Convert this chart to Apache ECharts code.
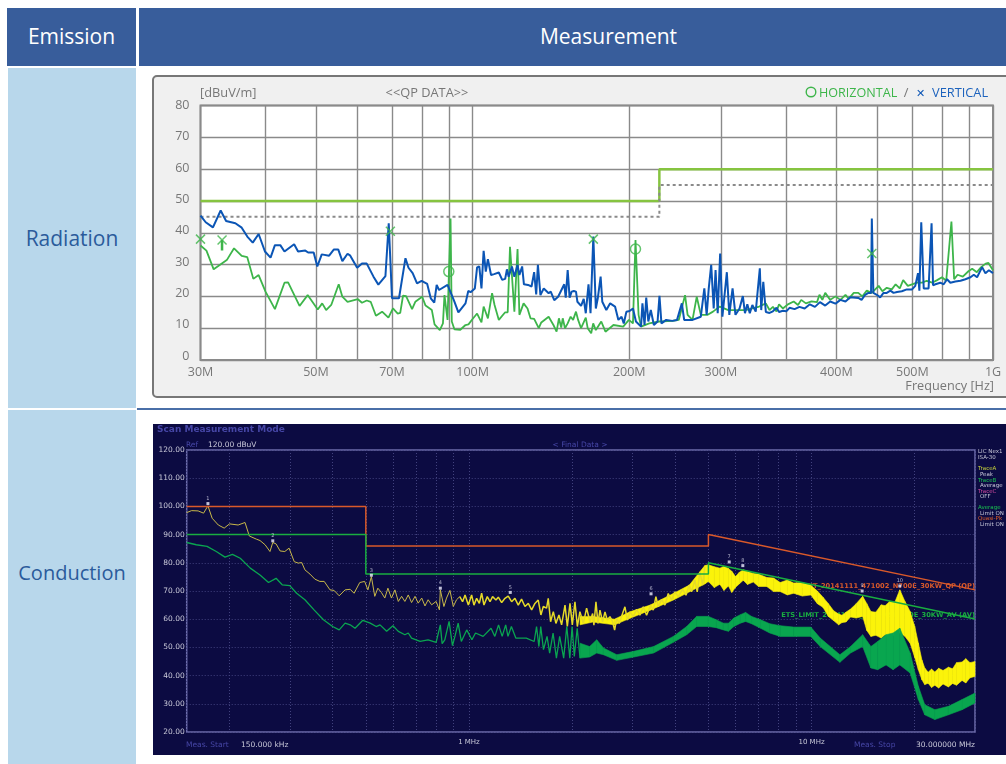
<!DOCTYPE html>
<html>
<head>
<meta charset="utf-8">
<title>Emission</title>
<script src="https://cdn.jsdelivr.net/npm/echarts@6/dist/echarts.min.js"></script>
<style>
  html, body { margin: 0; padding: 0; background: #fff; }
  body { width: 1006px; height: 764px; position: relative; overflow: hidden; font-family: "Open Sans", sans-serif; }
  .cell { position: absolute; box-sizing: border-box; display: flex; align-items: center; justify-content: center; font-size: 21px; }
  .head { background: #385d9b; color: #fff; }
  .side { background: #b8d7eb; color: #2b5b9b; }
  #rule { position: absolute; left: 137px; top: 408px; width: 869px; height: 2px; background: #4a6fa8; }
  #panel { position: absolute; left: 152px; top: 75px; width: 870px; height: 323px; box-sizing: border-box;
           background: #f0f0f0; border: 2px solid #777; border-radius: 5px; }
  #radiation { position: absolute; left: 152px; top: 75px; width: 854px; height: 323px; }
  #conduction { position: absolute; left: 153px; top: 424px; width: 853px; height: 331px; filter: blur(0.4px); }
</style>
</head>
<body>
<div class="cell head" style="left:7px;top:8px;width:129px;height:58px;padding-bottom:2px">Emission</div>
<div class="cell head" style="left:139px;top:8px;width:867px;height:58px;padding:0 0 2px 72px">Measurement</div>
<div class="cell side" style="left:8px;top:68px;width:128px;height:340px">Radiation</div>
<div class="cell side" style="left:8px;top:410px;width:128px;height:354px;padding-bottom:30px;font-size:20px">Conduction</div>
<div id="rule"></div>
<div id="panel"></div>
<div id="radiation"></div>
<div id="conduction"></div>
<script>
// --- Radiation, [MHz, dBuV/m]
const radGridFreqs = [30, 40, 50, 60, 70, 80, 90, 100, 200, 300, 400, 500, 600, 700, 800, 900, 1000]
const radTickFreqs = [30, 50, 70, 100, 200, 300, 500, 700, 1000]
const radTickLabels = ['30M', '50M', '70M', '100M', '200M', '300M', '400M', '500M', '1G']
const radYTicks = [0, 10, 20, 30, 40, 50, 60, 70, 80]

const radLimit = [[30, 50], [228.5, 50], [228.5, 60], [1000, 60]]
const radMargin = [[30, 45], [228.5, 45], [228.5, 55], [1000, 55]]

const radVertical = [
  [30, 45.4], [30.7, 43.3], [31.7, 41.7], [32.8, 47], [33.6, 43.7], [35, 43], [36, 41.6], [36.9, 38.8],
  [37.8, 36.9], [38.8, 39.6], [39.9, 34.1], [40.9, 32.2], [41.7, 36.1], [42.7, 36.1], [43.5, 34.1], [45.4, 36.4],
  [46.2, 34.1], [47.7, 34.4], [48.3, 33.8], [49.5, 33.8], [50.3, 29.4], [51.3, 33.2], [53, 32.8], [54.1, 34.7],
  [55.2, 34.7], [56.2, 31.1], [57.5, 33.4], [58.2, 32.8], [60, 29], [61.3, 30.3], [62.6, 30.3], [64.5, 26.2],
  [65.9, 23.7], [68, 26.4], [69, 43], [70, 19.4], [72.2, 19.4], [74.3, 32], [75.3, 29], [76.7, 27.3],
  [78.2, 24.1], [79.8, 24.9], [81.8, 23.9], [83.1, 19.4], [84.4, 18], [85.3, 23.6], [86.2, 22], [89.5, 23.6],
  [91.2, 20.4], [92.3, 18.3], [93.9, 15], [96.9, 17.8], [98.1, 21.7], [99.1, 21.3], [101, 22.5], [102, 29.1],
  [103, 29.4], [104, 22.5], [105, 34.3], [106, 27.8], [107, 31.7], [108.5, 26.7], [110, 27], [112.3, 27.5],
  [114, 25.2], [115.5, 25.5], [116.4, 28.5], [117.3, 26.2], [119, 29.4], [120.3, 26.2], [122, 29.9], [123, 26.7],
  [124.5, 29.4], [125.5, 23.8], [127.8, 23.6], [129.8, 23.1], [131.3, 27.6], [132.5, 20.6], [133.5, 29.9], [135, 20.4],
  [137, 22.5], [140, 21], [141.3, 21.5], [143.5, 18.8], [146, 19.9], [150, 23.8], [151, 19.6], [152.3, 28.3],
  [153.6, 19.6], [155, 21.5], [156.5, 21.7], [158, 21.5], [159, 18.3], [161.6, 17], [163.5, 19.2], [165, 14.7],
  [167, 23.8], [168.5, 14.7], [170.6, 38.8], [172.5, 16.2], [174, 19.4], [176.2, 26.2], [177.5, 18.3], [180.7, 15.7],
  [183.8, 17.8], [187.8, 16.8], [190.6, 12.6], [193.3, 13.6], [195.2, 11.5], [197.5, 15.2], [200.3, 15.4], [203.3, 16.2],
  [206, 12.1], [210.7, 10.5], [212, 17.8], [214, 11], [215.6, 19.6], [217.6, 12.1], [220, 15.7], [223, 11],
  [226.7, 12.1], [228.6, 20.2], [230.6, 11.5], [235.5, 12.6], [242, 12.3], [247, 12.6], [252.4, 17.8], [255, 12.6],
  [264.6, 12.6], [274.5, 13.6], [278.8, 22.5], [281.7, 14.2], [284.3, 22.5], [287.4, 29.9], [290.6, 16.2], [293, 28.3],
  [295.8, 14.7], [299, 33.5], [302, 13.6], [308, 27.6], [311.4, 14.2], [315.9, 22.5], [320, 14.2], [325.8, 16.2],
  [330.6, 20.1], [333.7, 14.7], [337.2, 17.5], [340.9, 14.7], [344.8, 17.3], [350, 15.2], [356.4, 28.8], [358.6, 15.7],
  [361.9, 24.6], [366, 15.1], [372, 14.8], [377.6, 15.3], [383.7, 16.4], [388, 15.1], [394.6, 15.5], [400.6, 15.3],
  [406.5, 16.4], [415.6, 16], [424.7, 16.7], [434.6, 16.2], [444.7, 17.5], [454.8, 16.7], [465, 18.2], [476, 17.1],
  [486.6, 18.4], [498, 17.7], [509, 18.9], [520.6, 18.4], [531.8, 19.7], [551, 19.5], [559, 18.9], [568, 20.5],
  [576, 21.1], [583, 21.1], [585, 44.5], [589, 21.1], [598, 20.5], [607, 19.7], [616, 21.1], [625, 21.1],
  [635, 21.8], [644, 21.1], [654, 21.4], [668, 21.6], [683, 22.2], [699, 22.2], [709, 23.3], [717.6, 27.3],
  [722, 21.8], [728, 43.3], [736, 22.5], [752, 22.5], [762, 43], [767, 23.5], [775, 23.8], [792, 24.3],
  [804, 23.8], [816, 25.4], [828, 24.3], [846.6, 24.7], [866, 24.9], [885, 25.4], [905, 26], [918.6, 26.8],
  [932, 26], [953, 29.2], [967, 27.3], [982, 28.2], [1000, 27.3]
]

const radHorizontal = [
  [30, 36], [30.8, 34.4], [31.8, 28.5], [33.7, 31.4], [34.8, 35.1], [36, 32.7], [36.9, 32.3], [37.9, 25.5],
  [38.8, 26.7], [40, 21.5], [41.7, 16], [43.5, 24.3], [44.2, 24.4], [46.5, 17], [48.2, 20.4], [50.4, 15.9],
  [51.4, 17.8], [52.3, 15.7], [53.5, 17.3], [55.3, 23.8], [56.2, 19.9], [57.5, 18.3], [60.2, 19.1], [61.3, 18],
  [62.6, 18.7], [63.7, 18.3], [65.2, 13.9], [67, 15.2], [68.9, 13.3], [70.3, 16.2], [71.8, 14.6], [72.6, 14.8],
  [73.5, 20.2], [74.5, 20.1], [76.5, 16], [77.6, 18.3], [80, 19.9], [81.2, 17.1], [83.5, 15.7], [84.5, 11.2],
  [86.5, 9.4], [87.7, 11.5], [88.3, 20.4], [89.5, 12.6], [90.7, 44.5], [91.2, 12.1], [92.3, 9.6], [94.7, 9.5],
  [96.9, 11], [98.2, 11.2], [99.9, 12.8], [102, 14.6], [104, 11.8], [105, 16.8], [107, 13.1], [109, 21],
  [110.2, 17.3], [112.3, 12.6], [115.5, 15], [116.8, 15], [118, 35.6], [120.3, 15.2], [122, 34.9], [123, 14.2],
  [125.3, 17.8], [127.5, 16.2], [129.2, 13.1], [131.3, 12.9], [134, 10], [135.5, 11.8], [140, 13.6], [141, 13.1],
  [143, 11], [145, 8.9], [146.5, 13.1], [148, 10.2], [149, 13.1], [150.5, 10], [152.3, 11.5], [154.3, 13.6],
  [156, 12.6], [158, 15.2], [159.5, 12.6], [161.6, 10], [165, 13.3], [166.4, 10], [169, 8.4], [170.5, 11.5],
  [172.5, 9.4], [176.7, 12.1], [180, 8.9], [186.5, 11], [194.7, 10.5], [199.7, 12.6], [203.3, 11.5], [205.6, 37.7],
  [208.4, 14.2], [210.7, 10.5], [218.5, 11.5], [228.3, 12.1], [242, 12.3], [249, 12.6], [256, 20.4], [258.9, 14.2],
  [264.6, 12.6], [269.6, 19.9], [274.5, 14.2], [283, 14.2], [289.7, 15.2], [298.5, 16.8], [310, 15.7], [334.7, 15.7],
  [355.4, 16.8], [366, 17.8], [372, 15.7], [377.6, 16.7], [383.7, 15.3], [388, 17.5], [394.6, 16.2], [403.5, 17.5],
  [414, 18.4], [422, 17.3], [428, 18.9], [437, 17.8], [448, 18.4], [459, 18.2], [464, 20.5], [470, 18.9],
  [476, 21.1], [486.6, 18.9], [498, 20], [509, 18.9], [520.6, 20.5], [528, 19.2], [540, 21.1], [551, 21.1],
  [561, 20], [572, 21.8], [585, 21.1], [603, 23.3], [613, 21.6], [625, 22.7], [639, 22.2], [650, 23.8],
  [662, 22.5], [672, 25.1], [686, 23.3], [699, 23.8], [714, 24.3], [731, 24.3], [746, 24.9], [764, 24.3],
  [781, 25.1], [798, 26], [813, 24.9], [832, 43.5], [842, 25.4], [855, 26.8], [875, 26.2], [897, 27.9],
  [912, 28.7], [931, 27.6], [949, 29.2], [968, 30.3], [980, 30.5], [1000, 28.2]
]

const radCrossMarks = [[30, 38], [33, 37.7], [69.5, 40.5], [170.6, 38], [585, 33.5]]
const radCircleMarks = [[90, 27.8], [205.6, 34.9]]
const radStem = [[33, 37.7], [33, 34.4]]

// --- Conduction, [MHz, dBuV]
const conGridFreqs = [0.15, 0.2, 0.3, 0.4, 0.5, 0.6, 0.7, 0.8, 0.9, 1, 2, 3, 4, 5, 6, 7, 8, 9, 10, 20, 30]
const conTickFreqs = [1, 10]
const conTickLabels = ['1 MHz', '10 MHz']

const conQpLimit = [[0.15, 100], [0.5, 100], [0.5, 86], [5, 86], [5, 90], [30, 70.4]]
const conAvLimit = [[0.15, 90], [0.5, 90], [0.5, 76], [5, 76], [5, 80], [30, 60.1]]

const conPeak = [
  [0.15, 97.8], [0.155, 98.5], [0.162, 98.4], [0.168, 97.6], [0.173, 100.2], [0.178, 95.8], [0.1855, 93.4], [0.193, 92.3],
  [0.2, 93.8], [0.212, 93.4], [0.222, 94.3], [0.2285, 89.5], [0.2395, 88.4], [0.2455, 87.9], [0.254, 86.4], [0.2625, 84],
  [0.2675, 87.2], [0.2735, 86.7], [0.281, 84.2], [0.29, 84], [0.2985, 85.2], [0.309, 80.4], [0.3176, 79.9], [0.325, 80.1],
  [0.332, 77.5], [0.3435, 76], [0.355, 74.2], [0.367, 73.4], [0.378, 73.4], [0.393, 70.4], [0.404, 70.2], [0.418, 68.3],
  [0.435, 70.4], [0.45, 70.6], [0.462, 69.2], [0.48, 73], [0.496, 73.4], [0.507, 70.4], [0.519, 75.1], [0.531, 68.1],
  [0.542, 71], [0.555, 69.5], [0.568, 67.5], [0.58, 71], [0.594, 67.5], [0.608, 70.4], [0.622, 66.3], [0.636, 68.1],
  [0.65, 66.3], [0.665, 68.6], [0.68, 65.9], [0.696, 68.1], [0.711, 65.7], [0.728, 67.5], [0.744, 64.7], [0.76, 66.9],
  [0.778, 65.1], [0.802, 66.3], [0.82, 63.3], [0.825, 70.4], [0.845, 64.5], [0.86, 67.5], [0.88, 70.2], [0.9, 64.5],
  [0.92, 66.9], [0.94, 68]
]

const conPeakNoise = [
  [0.94, 68], [0.958, 66.2], [0.974, 68.6], [0.996, 65], [1.018, 68.6], [1.034, 65], [1.053, 67.4], [1.072, 65.6],
  [1.089, 69.2], [1.106, 65], [1.131, 68], [1.152, 66.2], [1.172, 68], [1.199, 66.8], [1.218, 67.8], [1.246, 65.9],
  [1.274, 67.4], [1.302, 68.2], [1.332, 66.2], [1.362, 67.4], [1.393, 65], [1.424, 67.1], [1.457, 64.5], [1.49, 65.6],
  [1.524, 63.3], [1.558, 65.6], [1.593, 66.8], [1.622, 61.5], [1.648, 64.5], [1.685, 63.9], [1.704, 67.4], [1.731, 59.1],
  [1.763, 62.7], [1.794, 58.5], [1.831, 61.5], [1.864, 58], [1.907, 65], [1.937, 57.4], [1.972, 65.6], [2.003, 58],
  [2.039, 66.2], [2.072, 57.4], [2.108, 62.7], [2.157, 58.5], [2.205, 63.9], [2.256, 59.1], [2.296, 62], [2.316, 57.9],
  [2.348, 66.2], [2.38, 58.5], [2.412, 63.2], [2.455, 59.1], [2.495, 62.6], [2.533, 59.7], [2.58, 60.9], [2.626, 59.1],
  [2.662, 56.1], [2.698, 60.3], [2.746, 58.5], [2.808, 62], [2.853, 64.4], [2.9, 59.7], [2.95, 62.6], [3.017, 60.9],
  [3.086, 63.5], [3.155, 61.4], [3.227, 64.4], [3.3, 61.4], [3.39, 65], [3.451, 63.2], [3.513, 68], [3.569, 64.4],
  [3.65, 67], [3.733, 65], [3.817, 69.1], [3.904, 66.8], [3.99, 69.7], [4.083, 68], [4.203, 70.6], [4.3, 68.5],
  [4.395, 72.1], [4.465, 69.7], [4.565, 73.9], [4.638, 69.7], [4.722, 76.8], [4.808, 72.1], [4.88, 78.6]
]

// [MHz, low, high]
const conPeakBand = [
  [2.11, 58, 61], [2.3, 59, 61], [2.66, 58, 60], [2.95, 60.3, 62.6], [3.38, 63.2, 65], [3.95, 66.8, 69.1],
  [4.4, 69.7, 72.1], [4.88, 72.5, 79], [5, 73.4, 79.3], [5.2, 71.2, 78.6], [5.4, 72.4, 78.1], [5.55, 70.2, 78.8],
  [5.72, 71.8, 78], [5.85, 69.5, 77], [6, 71.3, 75.1], [6.15, 72.5, 76.6], [6.32, 73.8, 77.5], [6.5, 72.3, 77],
  [6.76, 73.2, 76.2], [7, 71.6, 76], [7.4, 71.6, 74.8], [7.75, 69.8, 74.6], [8.1, 69.8, 73], [8.5, 68.6, 73.9],
  [8.87, 69.2, 72.8], [9.4, 68.2, 73], [9.95, 68.6, 72], [10.4, 65.5, 70], [10.8, 64.2, 67.8], [11.2, 61, 65.5],
  [11.6, 59.5, 63], [12, 58, 61.8], [12.27, 58.8, 61.4], [12.6, 59, 62.5], [13, 60.8, 63.6], [13.5, 60.4, 65.5],
  [14.1, 61, 68.1], [14.5, 56, 65.5], [14.9, 53.9, 62.7], [15.4, 54.3, 62.5], [15.97, 53.3, 65.1], [16.4, 54.5, 64.8],
  [16.9, 53.3, 66.3], [17.5, 54.7, 66], [18.1, 55.1, 70.4], [18.7, 54, 66.5], [19.4, 51.5, 62.7], [20, 46.5, 57.5],
  [20.5, 42.1, 51.5], [21, 38.5, 45.5], [21.4, 36.8, 42.7], [21.9, 37.3, 41.2], [22.4, 35.8, 42.3], [22.9, 36.6, 41.3],
  [23.5, 35.6, 42.6], [24.2, 37, 41.8], [25.1, 36, 43], [25.8, 37.2, 42.4], [26.5, 36.6, 44.6], [27.5, 38.3, 44.8],
  [28.2, 37.4, 46], [29, 39.2, 44.6], [30, 39.7, 45]
]

const conAverage = [
  [0.15, 87.2], [0.16, 86.4], [0.172, 85.8], [0.183, 84], [0.194, 82], [0.204, 83], [0.215, 81.6], [0.23, 78.1],
  [0.2455, 75.7], [0.26, 73], [0.2735, 74.5], [0.285, 72.2], [0.3, 71.9], [0.314, 69.2], [0.332, 66.9], [0.353, 63.3],
  [0.376, 59.8], [0.4, 57.4], [0.418, 56.2], [0.435, 58.6], [0.45, 58], [0.465, 56.8], [0.49, 59.6], [0.515, 58.6],
  [0.536, 57.4], [0.55, 58], [0.575, 55.7], [0.6, 57.7], [0.622, 55.7], [0.65, 54.5], [0.665, 55.1], [0.68, 53.3],
  [0.72, 52.1], [0.76, 52.7], [0.802, 51.8], [0.825, 58], [0.835, 51.3], [0.85, 52.7], [0.875, 59.2], [0.895, 50.6],
  [0.91, 53.9], [0.93, 58.6], [0.95, 52.1], [0.985, 56.2], [1.02, 52.7], [1.045, 55.1], [1.1, 53.9], [1.16, 56.8],
  [1.19, 53.9], [1.22, 58], [1.25, 53.9], [1.28, 58], [1.3, 53.9], [1.33, 57.4], [1.37, 53.3], [1.47, 53.3],
  [1.55, 52.1], [1.575, 57.4], [1.6, 50.3], [1.62, 57.4], [1.65, 49.2], [1.69, 53.9], [1.72, 48], [1.76, 55.1],
  [1.8, 46.2], [1.84, 53.9], [1.89, 46.2], [1.93, 57.4], [1.97, 46.2], [2, 57.4], [2.03, 46.8], [2.07, 56.8], [2.11, 46.2]
]

const conAverageBand = [
  [2.11, 46.2, 51.5], [2.25, 46.6, 50.3], [2.36, 48, 52.7], [2.47, 47.4, 49.8], [2.7, 45.4, 47.4], [3.03, 46.6, 48.6],
  [3.46, 48, 50.3], [3.95, 51.8, 53.9], [4.32, 54.5, 57.4], [4.62, 57.4, 61], [5, 57.4, 61], [5.27, 57, 59.8],
  [5.53, 56.2, 58.6], [5.72, 55.7, 58.6], [5.93, 57.4, 60.4], [6.2, 58.6, 61.6], [6.42, 59.2, 62.4], [6.68, 58.4, 61],
  [7.1, 56.8, 59.8], [7.55, 55.1, 58.4], [8.1, 53.9, 57.7], [8.87, 53.9, 57.2], [9.95, 53.9, 57.2], [10.6, 50.3, 53.3],
  [12.1, 44.7, 47.4], [13, 48, 50.3], [14.1, 50.3, 54.5], [14.9, 42.7, 50.3], [15.6, 42.1, 52.1], [16.5, 43.8, 54.5],
  [17.3, 42.1, 55.1], [18.1, 43.8, 56.8], [19.4, 40.9, 48], [20.5, 31.5, 36.2], [21.4, 26.1, 29.7], [22.9, 24.4, 27.9],
  [25.1, 26.1, 29.1], [27.5, 27.9, 31.5], [30, 30.3, 33.8]
]

const conMarkers = [[0.173, 101], [0.2675, 87.8], [0.519, 75.6], [0.825, 71], [1.32, 69.5], [3.4, 69], [5.75, 80.3], [6.3, 79], [14.05, 70], [18.1, 71.8]]

function textEl(x, y, text, fill, font, align) {
  return { type: 'text', x, y, silent: true, style: { text, fill, font, align: align || 'left', verticalAlign: 'middle' } }
}

const radChart = echarts.init(document.getElementById('radiation'))
const radFont = '"Open Sans", sans-serif'

// the reference's y labels sit a little above their grid lines, more towards 0
const radYRich = {}
radYTicks.forEach(v => {
  radYRich['s' + v] = { color: '#777', fontSize: 12.5, fontFamily: radFont, padding: [0, 0, (80 - v) / 10, 0] }
})

radChart.setOption({
  animation: false,
  grid: { left: 48.5, right: 13, top: 30.5, bottom: 38, show: true, backgroundColor: '#fff', borderColor: '#8a8a8a', borderWidth: 2 },
  xAxis: {
    type: 'log', logBase: 10, min: 30, max: 1000,
    axisLine: { show: false },
    axisTick: { show: false, customValues: radGridFreqs },
    axisLabel: {
      color: '#777', fontSize: 12.5, fontFamily: radFont, margin: 6, customValues: radTickFreqs,
      formatter: v => radTickLabels[radTickFreqs.findIndex(t => Math.abs(t - v) < 0.5)] || ''
    },
    splitLine: { show: true, lineStyle: { color: '#8a8a8a', width: 1.4 } }
  },
  yAxis: {
    type: 'value', min: 0, max: 80, interval: 10,
    axisLine: { show: false }, axisTick: { show: false },
    axisLabel: { margin: 11, formatter: v => `{s${v}|${v}}`, rich: radYRich },
    splitLine: { show: true, lineStyle: { color: '#8a8a8a', width: 1.4 } }
  },
  series: [
    { type: 'line', data: radLimit, showSymbol: false, lineStyle: { color: '#86c440', width: 2.5 } },
    { type: 'line', data: radMargin, showSymbol: false, lineStyle: { color: '#8a8a8a', width: 2, type: [3, 3] } },
    { type: 'line', data: radHorizontal, showSymbol: false, lineStyle: { color: '#3db54a', width: 1.8 } },
    { type: 'line', data: radVertical, showSymbol: false, z: 3, lineStyle: { color: '#0b55b5', width: 2 } },
    { type: 'line', data: radStem, showSymbol: false, z: 4, lineStyle: { color: '#3db54a', width: 2.5 } },
    { type: 'scatter', data: radCrossMarks, symbol: 'path://M0,0L10,10M10,0L0,10', symbolSize: 9, clip: false, z: 5,
      itemStyle: { color: 'none', borderColor: '#3db54a', borderWidth: 1.5 } },
    { type: 'scatter', data: radCircleMarks, symbol: 'circle', symbolSize: 10, clip: false, z: 5,
      itemStyle: { color: 'none', borderColor: '#3db54a', borderWidth: 1.5 } }
  ],
  graphic: [
    textEl(48, 18.5, '[dBuV/m]', '#777', '12.8px ' + radFont),
    textEl(275, 18.5, '<<QP DATA>>', '#777', '12.8px ' + radFont, 'center'),
    { type: 'circle', shape: { cx: 659, cy: 17, r: 4.8 }, silent: true, style: { fill: 'none', stroke: '#3db54a', lineWidth: 1.4 } },
    textEl(667, 18.5, 'HORIZONTAL', '#3db54a', '12.6px ' + radFont),
    textEl(754, 18.5, '/', '#777', '12.8px ' + radFont, 'center'),
    textEl(768, 18.5, '✕', '#0b55b5', '11px ' + radFont, 'center'),
    textEl(780, 18.5, 'VERTICAL', '#1d63bd', '12.8px ' + radFont),
    textEl(842, 311, 'Frequency [Hz]', '#777', '12.7px ' + radFont, 'right')
  ]
})

function bandSeries(data, color, z) {
  return {
    type: 'custom', data, z, clip: true,
    encode: { x: 0, y: [1, 2] },
    renderItem: (params, api) => {
      const next = data[params.dataIndex + 1]
      if (!next) return null
      const pts = [
        api.coord([api.value(0), api.value(1)]), api.coord([next[0], next[1]]),
        api.coord([next[0], next[2]]), api.coord([api.value(0), api.value(2)])
      ]
      return { type: 'polygon', shape: { points: pts }, style: { fill: color, stroke: color, lineWidth: 0.6 } }
    }
  }
}

const conChart = echarts.init(document.getElementById('conduction'))
const conFont = '"DejaVu Sans", sans-serif'
const dim = '#4646a6'
const pale = '#c9c9d9'
conChart.setOption({
  animation: false,
  backgroundColor: '#0c0b42',
  grid: { left: 33.7, right: 31, top: 26, bottom: 23, show: true, borderColor: '#6c6cab', borderWidth: 1.5 },
  xAxis: {
    type: 'log', logBase: 10, min: 0.15, max: 30,
    axisLine: { show: false },
    axisTick: { show: false, customValues: conGridFreqs },
    axisLabel: {
      color: pale, fontSize: 7, fontFamily: conFont, margin: 7, customValues: conTickFreqs,
      formatter: v => conTickLabels[conTickFreqs.findIndex(t => Math.abs(t - v) < 0.01)] || ''
    },
    splitLine: { show: true, lineStyle: { color: '#42427f', width: 1, type: [1, 2] } }
  },
  yAxis: {
    type: 'value', min: 20, max: 120, interval: 10,
    axisLine: { show: false }, axisTick: { show: false },
    axisLabel: { color: pale, fontSize: 7.5, fontFamily: conFont, margin: 2, formatter: v => v.toFixed(2) },
    splitLine: { show: true, lineStyle: { color: '#42427f', width: 1, type: [1, 2] } }
  },
  series: [
    { type: 'line', data: conPeak, showSymbol: false, lineStyle: { color: '#c8b84a', width: 1 } },
    { type: 'line', data: conPeakNoise, showSymbol: false, z: 2, lineStyle: { color: '#e6da28', width: 1.5, join: 'bevel' } },
    bandSeries(conPeakBand, '#fbf30a', 2),
    { type: 'line', data: conAverage, showSymbol: false, z: 3, lineStyle: { color: '#0aa550', width: 1.3 } },
    bandSeries(conAverageBand, '#09a64f', 3),
    { type: 'line', data: conQpLimit, showSymbol: false, z: 4, lineStyle: { color: '#d9592a', width: 1.5 } },
    { type: 'line', data: conAvLimit, showSymbol: false, z: 4, lineStyle: { color: '#19ad40', width: 1.5 } },
    { type: 'scatter', data: conMarkers, symbol: 'rect', symbolSize: [3, 3], z: 6,
      itemStyle: { color: '#eef' },
      label: { show: true, position: 'top', distance: 1, color: '#dde', fontSize: 5, fontFamily: conFont,
        formatter: p => String(p.dataIndex + 1) } }
  ],
  graphic: [
    textEl(4, 5.5, 'Scan Measurement Mode', dim, 'bold 9px ' + conFont),
    textEl(33, 21, 'Ref', dim, '7.5px ' + conFont),
    textEl(55, 21, '120.00 dBuV', pale, '7.5px ' + conFont),
    textEl(427, 21, '< Final Data >', dim, '7.5px ' + conFont, 'center'),
    textEl(33, 321, 'Meas. Start', dim, '7.5px ' + conFont),
    textEl(88, 321, '150.000 kHz', pale, '7.5px ' + conFont),
    textEl(701, 321, 'Meas. Stop', dim, '7.5px ' + conFont),
    textEl(822, 321, '30.000000 MHz', pale, '7.5px ' + conFont, 'right'),
    textEl(822, 162, 'ETS_LIMIT_20141111_471002_N700E_30KW_QP (QP)', '#d9592a', 'bold 6.7px ' + conFont, 'right'),
    textEl(822, 191, 'ETS_LIMIT_20141111_471002_N700E_30KW_AV (AV)', '#19ad40', 'bold 6.7px ' + conFont, 'right'),
    textEl(825, 28, 'LIC Nex1', pale, '5.5px ' + conFont),
    textEl(825, 34, 'ISA-30', pale, '5.5px ' + conFont),
    textEl(825, 45, 'TraceA', '#c6d23a', '5.5px ' + conFont),
    textEl(827, 51, 'Peak', pale, '5.5px ' + conFont),
    textEl(825, 57, 'TraceB', '#19c050', '5.5px ' + conFont),
    textEl(827, 62, 'Average', pale, '5.5px ' + conFont),
    textEl(825, 68, 'TraceC', '#d04aa0', '5.5px ' + conFont),
    textEl(827, 73, 'OFF', pale, '5.5px ' + conFont),
    textEl(825, 84, 'Average', '#19c050', '5.5px ' + conFont),
    textEl(827, 90, 'Limit ON', pale, '5.5px ' + conFont),
    textEl(825, 95, 'Quasi-Pk', '#e0602a', '5.5px ' + conFont),
    textEl(827, 101, 'Limit ON', pale, '5.5px ' + conFont)
  ]
})
</script>
</body>
</html>
